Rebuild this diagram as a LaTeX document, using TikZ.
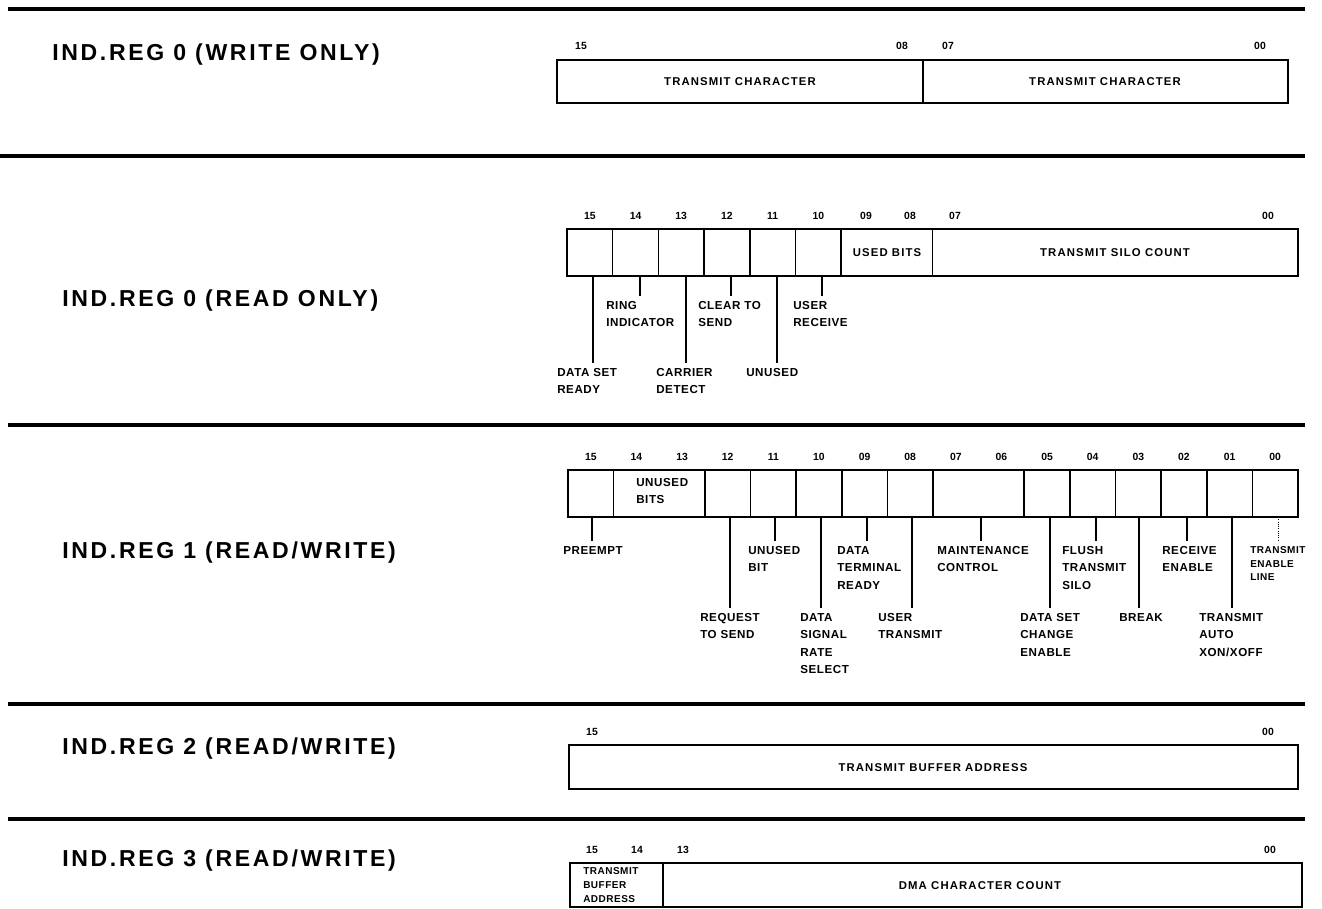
\documentclass[tikz,border=0pt]{standalone}
\usepackage{fontspec}
\setmainfont{Liberation Sans}
\newfontfamily\titlef[LetterSpace=11.5]{Liberation Sans}
\newfontfamily\labf[LetterSpace=5]{Liberation Sans}
\newfontfamily\fieldf[LetterSpace=10]{Liberation Sans}
\tikzset{
  title/.style={anchor=base west, inner sep=0pt, font=\titlef\bfseries\fontsize{17.3}{20}\selectfont},
  num/.style={inner sep=0pt, font=\bfseries\fontsize{7.8}{9}\selectfont},
  lab/.style={anchor=north west, inner sep=0pt, align=left, font=\labf\bfseries\fontsize{8.7}{13.1}\selectfont},
  smalllab/.style={anchor=north west, inner sep=0pt, align=left, font=\labf\bfseries\fontsize{7.5}{10.4}\selectfont},
  field/.style={inner sep=0pt, font=\fieldf\bfseries\fontsize{8.5}{10}\selectfont},
  regbox/.style={line width=1.9pt},
  divline/.style={line width=1.2pt},
  lead/.style={line width=1pt, shorten >=4pt},
  faintlead/.style={line width=0.7pt, densely dotted, shorten >=4pt},
  sepline/.style={line width=3pt}
}
\begin{document}
\begin{tikzpicture}[x=0.75pt,y=-0.75pt]
\useasboundingbox (0,0) rectangle (1322,909);

% separators
\draw[sepline] (8,9) -- (1305,9);
\draw[sepline] (0,156) -- (1305,156);
\draw[sepline] (8,425) -- (1305,425);
\draw[sepline] (8,704) -- (1305,704);
\draw[sepline] (8,819) -- (1305,819);

% titles
\node[title] (t0w) at (52,61) {IND.REG 0 (WRITE ONLY)};
\node[title] (t0r) at (62,306.5) {IND.REG 0 (READ ONLY)};
\node[title] (t1) at (62,558.5) {IND.REG 1 (READ/WRITE)};
\node[title] (t2) at (62,754.5) {IND.REG 2 (READ/WRITE)};
\node[title] (t3) at (62,866.5) {IND.REG 3 (READ/WRITE)};

% ===== IND.REG 0 (WRITE ONLY)
\draw[regbox] (557,60) rectangle (1288,103);
\draw[divline] (923,60) -- (923,103);
\node[num] (w15) at (581,46) {15};
\node[num] (w08) at (902,46) {08};
\node[num] (w07) at (948,46) {07};
\node[num] (w00) at (1260,46) {00};
\node[field] (wf1) at (740,82) {TRANSMIT CHARACTER};
\node[field] (wf2) at (1105,82) {TRANSMIT CHARACTER};

% ===== IND.REG 0 (READ ONLY)
\draw[regbox] (567,229) rectangle (1298,276);
\foreach \k in {1,...,6,8} \draw[divline] ({567+\k*45.69},229) -- ({567+\k*45.69},276);
\foreach \b/\t in {15/15,14/14,13/13,12/12,11/11,10/10}
  \node[num] (r\b) at ({567+(15-\b+0.5)*45.69},216) {\t};
\node[num] (r09) at (866,216) {09};
\node[num] (r08) at (910,216) {08};
\node[num] (r07) at (955,216) {07};
\node[num] (r00) at (1268,216) {00};
\node[field] (rf1) at (887,252.5) {USED BITS};
\node[field] (rf2) at (1115,252.5) {TRANSMIT SILO COUNT};

\node[lab] (Lrdsr) at (557,368) {DATA SET\\READY};
\node[lab] (Lrri) at (606,301) {RING\\INDICATOR};
\node[lab] (Lrcd) at (656,368) {CARRIER\\DETECT};
\node[lab] (Lrcts) at (698,301) {CLEAR TO\\SEND};
\node[lab] (Lrun) at (746,368) {UNUSED};
\node[lab] (Lrur) at (793,301) {USER\\RECEIVE};
\coordinate (crdsr) at (593,276);
\coordinate (crri) at (640,276);
\coordinate (crcd) at (686,276);
\coordinate (crcts) at (731,276);
\coordinate (crun) at (777,276);
\coordinate (crur) at (822,276);
\draw[lead] (crdsr) -- (crdsr |- Lrdsr.north);
\draw[lead] (crri) -- (crri |- Lrri.north);
\draw[lead] (crcd) -- (crcd |- Lrcd.north);
\draw[lead] (crcts) -- (crcts |- Lrcts.north);
\draw[lead] (crun) -- (crun |- Lrun.north);
\draw[lead] (crur) -- (crur |- Lrur.north);

% ===== IND.REG 1 (READ/WRITE)
\draw[regbox] (568,470) rectangle (1298,517);
\foreach \k in {1,3,4,5,6,7,8,10,11,12,13,14,15}
  \draw[divline] ({568+\k*45.625},470) -- ({568+\k*45.625},517);
\foreach \b/\t in {15/15,14/14,13/13,12/12,11/11,10/10,9/09,8/08,7/07,6/06,5/05,4/04,3/03,2/02,1/01,0/00}
  \node[num] (a\b) at ({568+(15-\b+0.5)*45.625},457) {\t};
\node[lab] (Lub) at (636,478) {UNUSED\\BITS};

\node[lab] (Lpre) at (563,546) {PREEMPT};
\node[lab] (Lrts) at (700,613) {REQUEST\\TO SEND};
\node[lab] (Lubit) at (748,546) {UNUSED\\BIT};
\node[lab] (Ldsrs) at (800,613) {DATA\\SIGNAL\\RATE\\SELECT};
\node[lab] (Ldtr) at (837,546) {DATA\\TERMINAL\\READY};
\node[lab] (Lut) at (878,613) {USER\\TRANSMIT};
\node[lab] (Lmc) at (937,546) {MAINTENANCE\\CONTROL};
\node[lab] (Ldsce) at (1020,613) {DATA SET\\CHANGE\\ENABLE};
\node[lab] (Lfts) at (1062,546) {FLUSH\\TRANSMIT\\SILO};
\node[lab] (Lbrk) at (1119,613) {BREAK};
\node[lab] (Lre) at (1162,546) {RECEIVE\\ENABLE};
\node[lab] (Ltax) at (1199,613) {TRANSMIT\\AUTO\\XON/XOFF};
\node[smalllab] (Ltel) at (1250,546) {TRANSMIT\\ENABLE\\LINE};

\coordinate (cpre) at (592,517);
\coordinate (crts) at (730,517);
\coordinate (cubit) at (775,517);
\coordinate (cdsrs) at (821,517);
\coordinate (cdtr) at (867,517);
\coordinate (cut) at (912,517);
\coordinate (cmc) at (981,517);
\coordinate (cdsce) at (1050,517);
\coordinate (cfts) at (1096,517);
\coordinate (cbrk) at (1139,517);
\coordinate (cre) at (1187,517);
\coordinate (ctax) at (1232,517);
\coordinate (ctel) at (1278,517);
\draw[lead] (cpre) -- (cpre |- Lpre.north);
\draw[lead] (crts) -- (crts |- Lrts.north);
\draw[lead] (cubit) -- (cubit |- Lubit.north);
\draw[lead] (cdsrs) -- (cdsrs |- Ldsrs.north);
\draw[lead] (cdtr) -- (cdtr |- Ldtr.north);
\draw[lead] (cut) -- (cut |- Lut.north);
\draw[lead] (cmc) -- (cmc |- Lmc.north);
\draw[lead] (cdsce) -- (cdsce |- Ldsce.north);
\draw[lead] (cfts) -- (cfts |- Lfts.north);
\draw[lead] (cbrk) -- (cbrk |- Lbrk.north);
\draw[lead] (cre) -- (cre |- Lre.north);
\draw[lead] (ctax) -- (ctax |- Ltax.north);
\draw[faintlead] (ctel) -- (ctel |- Ltel.north);

% ===== IND.REG 2 (READ/WRITE)
\draw[regbox] (569,745) rectangle (1298,789);
\node[num] (b15) at (592,732) {15};
\node[num] (b00) at (1268,732) {00};
\node[field] (bf) at (933,767.5) {TRANSMIT BUFFER ADDRESS};

% ===== IND.REG 3 (READ/WRITE)
\draw[regbox] (570,863) rectangle (1302,907);
\draw[divline] (663,863) -- (663,907);
\node[num] (d15) at (592,850) {15};
\node[num] (d14) at (637,850) {14};
\node[num] (d13) at (683,850) {13};
\node[num] (d00) at (1270,850) {00};
\node[smalllab] (dtba) at (583,867.5) {TRANSMIT\\BUFFER\\ADDRESS};
\node[field] (df) at (980,885.5) {DMA CHARACTER COUNT};
\end{tikzpicture}
\end{document}
